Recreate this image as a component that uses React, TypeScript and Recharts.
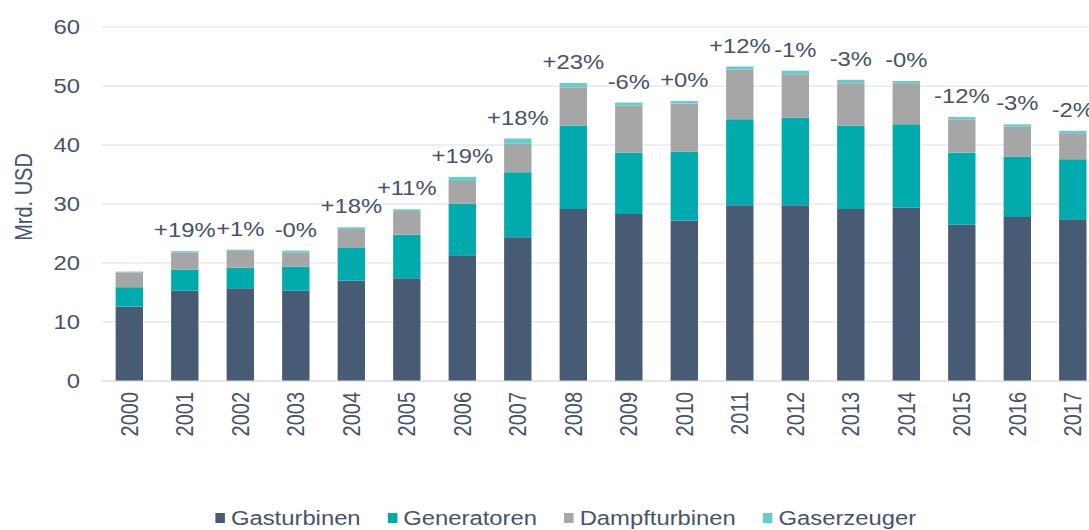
import { BarChart, Bar, XAxis, YAxis, CartesianGrid, LabelList, Legend, Label } from 'recharts';

// Jahreswerte in Mrd. USD
const YEARS = ['2000', '2001', '2002', '2003', '2004', '2005', '2006', '2007', '2008', '2009', '2010', '2011', '2012', '2013', '2014', '2015', '2016', '2017'];
const GASTURBINEN = [12.6, 15.3, 15.7, 15.3, 17.0, 17.4, 21.3, 24.35, 29.15, 28.3, 27.2, 29.8, 29.8, 29.15, 29.4, 26.5, 27.8, 27.4];
const GENERATOREN = [3.3, 3.6, 3.5, 4.1, 5.65, 7.4, 8.75, 11.05, 14.15, 10.4, 11.7, 14.55, 14.8, 14.15, 14.1, 12.2, 10.2, 10.2];
const DAMPFTURBINEN = [2.5, 2.9, 2.85, 2.35, 3.1, 4.0, 3.85, 4.8, 6.5, 8.0, 8.15, 8.45, 7.4, 7.15, 6.95, 5.65, 5.1, 4.4];
const GASERZEUGER = [0.15, 0.2, 0.2, 0.35, 0.3, 0.3, 0.7, 0.9, 0.7, 0.5, 0.4, 0.5, 0.6, 0.6, 0.4, 0.4, 0.4, 0.4];
const GROWTH = ['', '+19%', '+1%', '-0%', '+18%', '+11%', '+19%', '+18%', '+23%', '-6%', '+0%', '+12%', '-1%', '-3%', '-0%', '-12%', '-3%', '-2%'];
const Y_TICKS = [0, 10, 20, 30, 40, 50, 60];

const SERIES = [
  { key: 'gasturbinen', name: 'Gasturbinen', color: '#475B75' },
  { key: 'generatoren', name: 'Generatoren', color: '#00AAAD' },
  { key: 'dampfturbinen', name: 'Dampfturbinen', color: '#A6A6A6' },
  { key: 'gaserzeuger', name: 'Gaserzeuger', color: '#66CCCC' },
];

const data = YEARS.map((year, i) => ({
  year,
  gasturbinen: GASTURBINEN[i],
  generatoren: GENERATOREN[i],
  dampfturbinen: DAMPFTURBINEN[i],
  gaserzeuger: GASERZEUGER[i],
  growth: GROWTH[i],
}));

const FONT = '"Liberation Sans", Arial, sans-serif';
const TEXT = '#44546A';
const GRID = '#D9DDE3';
// the original picture is stretched horizontally
const STRETCH = 1.19;
const W = 940;
const H = 530;

const YearTick = ({ x, y, payload }: any) => (
  <text
    transform={`translate(${x},${y}) rotate(-90)`}
    textAnchor="end"
    dy="0.35em"
    fontSize={20}
    fill={TEXT}
  >
    {payload.value}
  </text>
);

const renderLegend = () => (
  <div style={{ display: 'flex', fontSize: 20, lineHeight: '20px', color: TEXT, whiteSpace: 'nowrap' }}>
    {SERIES.map((s) => (
      <div key={s.key} style={{ display: 'flex', alignItems: 'center', marginRight: 22.5 }}>
        <span style={{ display: 'inline-block', width: 8.4, height: 10, background: s.color, marginRight: 5 }} />
        <span>{s.name}</span>
      </div>
    ))}
  </div>
);

export default function App() {
  return (
    <div
      style={{
        position: 'fixed',
        left: 0,
        top: 0,
        width: 1089,
        height: 530,
        overflow: 'hidden',
        background: '#fff',
        fontFamily: FONT,
      }}
    >
      <div style={{ width: W, height: H, transform: `scaleX(${STRETCH})`, transformOrigin: '0 0' }}>
        <BarChart
          width={W}
          height={H}
          data={data}
          margin={{ top: 27, right: 15, left: 0, bottom: 99 }}
          barCategoryGap="25%"
        >
          <CartesianGrid vertical={false} stroke={GRID} strokeWidth={1} />
          <XAxis
            dataKey="year"
            height={50}
            interval={0}
            axisLine={{ stroke: GRID }}
            tickLine={false}
            tickSize={0}
            tickMargin={11}
            tick={<YearTick />}
          />
          <YAxis
            width={85.5}
            domain={[0, 60]}
            ticks={Y_TICKS}
            axisLine={false}
            tickLine={false}
            tickSize={6}
            tickMargin={12.3}
            tick={{ fill: TEXT, fontSize: 20 }}
            label={
              <Label
                content={() => (
                  <text
                    transform="translate(20.2,197) rotate(-90)"
                    textAnchor="middle"
                    dy="0.35em"
                    fontSize={20}
                    fill={TEXT}
                  >
                    Mrd. USD
                  </text>
                )}
              />
            }
          />
          <Legend
            layout="horizontal"
            verticalAlign="middle"
            align="center"
            wrapperStyle={{ left: 180.7, top: 508, width: 'auto' }}
            content={renderLegend}
          />
          {SERIES.map((s, i) => (
            <Bar
              key={s.key}
              dataKey={s.key}
              name={s.name}
              stackId="a"
              fill={s.color}
              isAnimationActive={false}
            >
              {i === SERIES.length - 1 && (
                <LabelList dataKey="growth" position="top" offset={14} fill={TEXT} fontSize={20} />
              )}
            </Bar>
          ))}
        </BarChart>
      </div>
    </div>
  );
}
